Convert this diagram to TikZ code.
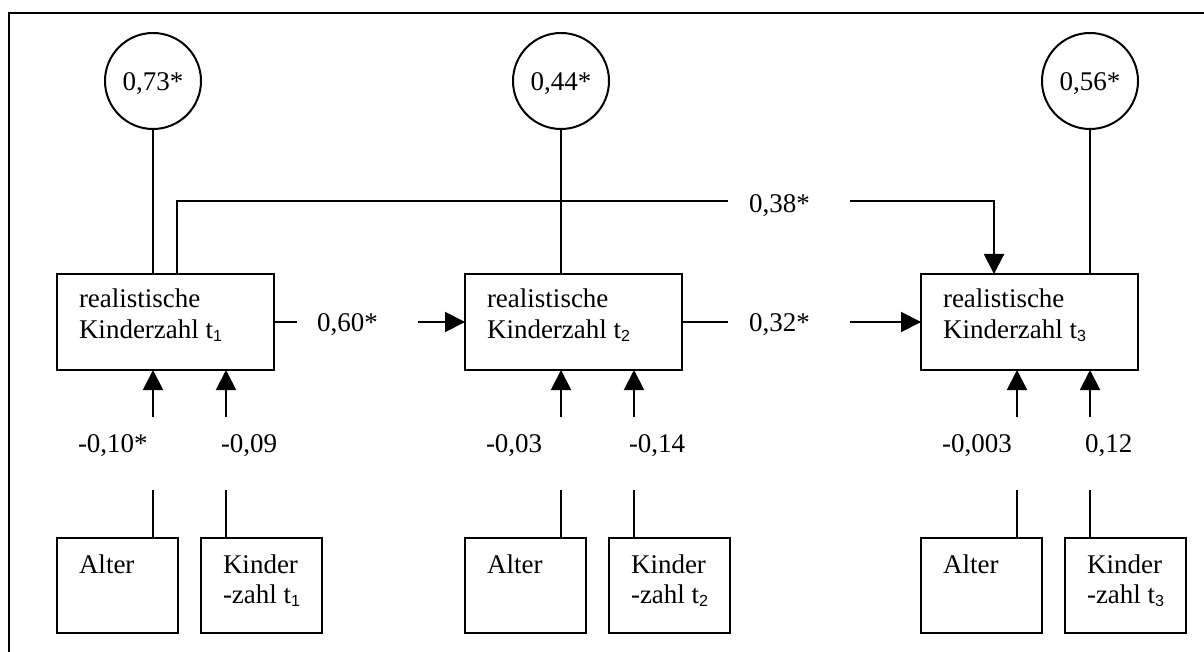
\documentclass[tikz,border=0pt]{standalone}
\usepackage{fontspec}
\setmainfont{Liberation Serif}
\newfontfamily\subsans{Liberation Sans}
\usetikzlibrary{arrows.meta}
\newcommand{\tsub}[1]{t\raisebox{-3pt}{\fontsize{16}{16}\selectfont\subsans #1}}
\begin{document}
\begin{tikzpicture}[x=1pt,y=-1pt,line width=2pt,
  every node/.style={font=\fontsize{27}{31}\selectfont},
  mainbox/.style={draw,minimum width=217pt,minimum height=96pt,anchor=north west,inner sep=0pt,outer sep=0pt},
  smallbox/.style={draw,minimum width=121pt,minimum height=95pt,anchor=north west,inner sep=0pt,outer sep=0pt},
  resid/.style={draw,circle,minimum size=96pt,inner sep=0pt,outer sep=0pt,text height=19pt,text depth=0pt},
  txt/.style={anchor=base west,inner sep=0pt},
  arr/.style={-{Triangle[length=20pt,width=20pt]}}]
\useasboundingbox (0,0) rectangle (1204,652);
\clip (0,0) rectangle (1204,652);
\draw[line width=2.3pt] (9,13) rectangle (1220,670);

\node[resid] (c1) at (153,81) {0,73*};
\node[resid] (c2) at (561,81) {0,44*};
\node[resid] (c3) at (1090,81) {0,56*};

\foreach \i/\x/\la/\lb in {1/57/{-0,10*}/{-0,09},2/465/{-0,03}/{-0,14},3/921/{-0,003}/{0,12}}{
  \node[mainbox] (b\i) at (\x,274) {};
  \node[txt] (bt\i) at (\x+21,307) {realistische};
  \node[txt] (bk\i) at (\x+21,338) {Kinderzahl \tsub{\i}};
  \node[smallbox] (sa\i) at (\x,538) {};
  \node[smallbox] (sk\i) at (\x+144,538) {};
  \node[txt] (sat\i) at (\x+21,573) {Alter};
  \node[txt] (skt\i) at (\x+165,573) {Kinder};
  \node[txt] (skz\i) at (\x+165,603) {-zahl \tsub{\i}};
  \coordinate (pa\i) at (\x+96,417);
  \coordinate (qa\i) at (\x+96,490);
  \coordinate (pk\i) at (\x+169,417);
  \coordinate (qk\i) at (\x+169,490);
  \draw[arr] (pa\i) -- (pa\i |- b\i.south);
  \draw[arr] (pk\i) -- (pk\i |- b\i.south);
  \draw (qa\i) -- (qa\i |- sa\i.north);
  \draw (qk\i) -- (qk\i |- sk\i.north);
  \node[txt] (la\i) at (\x+20,452) {\la};
  \node[txt] (lb\i) at (\x+163,452) {\lb};
}

\draw (c1) -- (c1 |- b1.north);
\draw (c2) -- (c2 |- b2.north);
\draw (c3) -- (c3 |- b3.north);

% 0,38 path
\coordinate (e38a) at (728,201);
\coordinate (e38b) at (850,201);
\draw ([xshift=120pt]b1.north west) |- (e38a);
\draw[arr] (e38b) -| ([xshift=73pt]b3.north west);
\node[txt] (l38) at (748,213) {0,38*};

% 0,60
\coordinate (e60a) at (297,322);
\coordinate (e60b) at (418,322);
\draw (b1.east) -- (e60a);
\draw[arr] (e60b) -- (b2.west);
\node[txt] (l60) at (316,331) {0,60*};

% 0,32
\coordinate (e32a) at (728,322);
\coordinate (e32b) at (850,322);
\draw (b2.east) -- (e32a);
\draw[arr] (e32b) -- (b3.west);
\node[txt] (l32) at (748,331) {0,32*};
\end{tikzpicture}
\end{document}
